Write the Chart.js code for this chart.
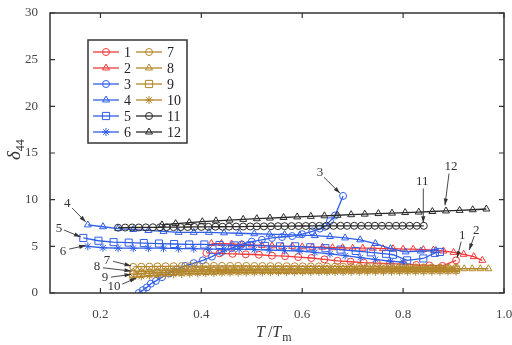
<!DOCTYPE html>
<html lang="en">
<head>
    <meta charset="UTF-8">
    <title>delta44 vs T/Tm</title>
    <script src="https://cdn.jsdelivr.net/npm/chart.js"></script>
    <style>
        body { margin: 0; padding: 0; background: #ffffff; }
        .wrap { width: 512px; height: 345px; position: relative; }
    </style>
</head>
<body>
    <div class="wrap"><canvas id="chart" width="512" height="345"></canvas></div>

    <script>
        // axis ticks
        const xTicks = [0.2, 0.4, 0.6, 0.8, 1.0];
        const yTicks = [0, 5, 10, 15, 20, 25, 30];
        const names = ["1", "2", "3", "4", "5", "6", "7", "8", "9", "10", "11", "12"];

        // red
        const t1 = [0.410, 0.436, 0.462, 0.488, 0.514, 0.540, 0.566, 0.592, 0.618, 0.644, 0.670, 0.696, 0.722, 0.748, 0.774, 0.800, 0.826, 0.852, 0.878, 0.905];
        const d1 = [4.30, 4.25, 4.20, 4.15, 4.10, 4.00, 3.95, 3.85, 3.75, 3.60, 3.45, 3.35, 3.25, 3.20, 3.15, 3.10, 3.00, 2.95, 2.90, 3.50];
        const t2 = [0.42, 0.44, 0.46, 0.48, 0.50, 0.52, 0.54, 0.56, 0.58, 0.60, 0.62, 0.64, 0.66, 0.68, 0.70, 0.72, 0.74, 0.76, 0.78, 0.80, 0.82, 0.84, 0.86, 0.88, 0.90, 0.92, 0.94, 0.957];
        const d2 = [5.30, 5.30, 5.25, 5.20, 5.15, 5.10, 5.05, 5.00, 5.00, 4.95, 4.90, 4.90, 4.85, 4.85, 4.80, 4.80, 4.80, 4.75, 4.75, 4.70, 4.70, 4.65, 4.60, 4.50, 4.35, 4.15, 3.90, 3.50];

        // blue
        const t3 = [0.276, 0.284, 0.292, 0.300, 0.310, 0.322, 0.336, 0.352, 0.368, 0.385, 0.403, 0.421, 0.440, 0.460, 0.480, 0.500, 0.520, 0.540, 0.560, 0.580, 0.600, 0.620, 0.635, 0.645, 0.655, 0.665, 0.681];
        const d3 = [0.0, 0.3, 0.6, 1.0, 1.3, 1.7, 2.1, 2.5, 2.9, 3.2, 3.5, 3.9, 4.4, 4.8, 5.2, 5.5, 5.7, 5.9, 6.0, 6.1, 6.3, 6.6, 6.9, 7.1, 7.7, 8.3, 10.4];
        const t4 = [0.175, 0.205, 0.235, 0.265, 0.295, 0.325, 0.355, 0.385, 0.415, 0.445, 0.475, 0.505, 0.535, 0.565, 0.595, 0.625, 0.655, 0.685, 0.715, 0.745, 0.775, 0.805, 0.835, 0.865];
        const d4 = [7.3, 7.1, 6.9, 6.8, 6.7, 6.6, 6.5, 6.5, 6.5, 6.45, 6.4, 6.35, 6.3, 6.25, 6.2, 6.15, 6.05, 5.9, 5.7, 5.3, 4.75, 4.4, 4.5, 4.55];
        const t5 = [0.166, 0.196, 0.226, 0.256, 0.286, 0.316, 0.346, 0.376, 0.406, 0.436, 0.466, 0.496, 0.526, 0.556, 0.586, 0.616, 0.646, 0.676, 0.706, 0.736, 0.766, 0.780, 0.808, 0.840, 0.863, 0.873];
        const d5 = [5.9, 5.6, 5.45, 5.4, 5.35, 5.3, 5.25, 5.2, 5.2, 5.15, 5.1, 5.1, 5.05, 5.0, 5.0, 4.9, 4.8, 4.65, 4.5, 4.35, 4.2, 4.1, 3.5, 3.7, 4.3, 4.4];
        const t6 = [0.175, 0.205, 0.235, 0.265, 0.295, 0.325, 0.355, 0.385, 0.415, 0.445, 0.475, 0.505, 0.535, 0.565, 0.595, 0.625, 0.655, 0.685, 0.715, 0.745, 0.775, 0.800];
        const d6 = [5.0, 4.85, 4.8, 4.8, 4.8, 4.8, 4.75, 4.75, 4.7, 4.7, 4.7, 4.65, 4.6, 4.55, 4.5, 4.35, 4.2, 4.0, 3.8, 3.6, 3.4, 3.3];

        // gold
        const tGold = [0.265, 0.281, 0.297, 0.313, 0.329, 0.345, 0.361, 0.377, 0.393, 0.409, 0.425, 0.441, 0.457, 0.473, 0.489, 0.505, 0.521, 0.537, 0.553, 0.569, 0.585, 0.601, 0.617, 0.633, 0.649, 0.665, 0.681, 0.697, 0.713, 0.729, 0.745, 0.761, 0.777, 0.793, 0.809, 0.825, 0.841, 0.857, 0.873, 0.889, 0.905];
        const t8 = [0.265, 0.281, 0.297, 0.313, 0.329, 0.345, 0.361, 0.377, 0.393, 0.409, 0.425, 0.441, 0.457, 0.473, 0.489, 0.505, 0.521, 0.537, 0.553, 0.569, 0.585, 0.601, 0.617, 0.633, 0.649, 0.665, 0.681, 0.697, 0.713, 0.729, 0.745, 0.761, 0.777, 0.793, 0.809, 0.825, 0.841, 0.857, 0.873, 0.889, 0.905, 0.921, 0.937, 0.953, 0.969];
        const d7 = [2.80, 2.82, 2.83, 2.85, 2.86, 2.87, 2.88, 2.88, 2.89, 2.89, 2.90, 2.90, 2.90, 2.90, 2.90, 2.89, 2.89, 2.88, 2.88, 2.87, 2.87, 2.86, 2.85, 2.85, 2.84, 2.83, 2.82, 2.81, 2.80, 2.80, 2.79, 2.78, 2.77, 2.76, 2.75, 2.74, 2.73, 2.72, 2.71, 2.70, 2.70];
        const d8 = [2.25, 2.29, 2.33, 2.36, 2.39, 2.42, 2.44, 2.46, 2.48, 2.50, 2.51, 2.52, 2.53, 2.54, 2.55, 2.55, 2.56, 2.56, 2.57, 2.57, 2.58, 2.58, 2.58, 2.59, 2.59, 2.59, 2.60, 2.60, 2.60, 2.60, 2.60, 2.60, 2.60, 2.60, 2.60, 2.60, 2.60, 2.60, 2.60, 2.60, 2.60, 2.60, 2.60, 2.60, 2.60];
        const d9 = [2.00, 2.06, 2.12, 2.17, 2.21, 2.25, 2.28, 2.31, 2.34, 2.36, 2.38, 2.40, 2.41, 2.42, 2.43, 2.44, 2.45, 2.45, 2.46, 2.46, 2.47, 2.47, 2.48, 2.48, 2.48, 2.49, 2.49, 2.49, 2.50, 2.50, 2.50, 2.50, 2.50, 2.50, 2.50, 2.50, 2.50, 2.50, 2.50, 2.50, 2.50];
        const d10 = [1.70, 1.78, 1.85, 1.91, 1.96, 2.00, 2.04, 2.07, 2.10, 2.12, 2.14, 2.16, 2.17, 2.18, 2.19, 2.20, 2.21, 2.22, 2.22, 2.23, 2.23, 2.24, 2.24, 2.25, 2.25, 2.25, 2.26, 2.26, 2.26, 2.27, 2.27, 2.27, 2.28, 2.28, 2.28, 2.28, 2.29, 2.29, 2.29, 2.30, 2.30];

        // black
        const t11 = [0.235, 0.249, 0.263, 0.276, 0.290, 0.304, 0.318, 0.331, 0.345, 0.359, 0.373, 0.386, 0.400, 0.414, 0.428, 0.442, 0.455, 0.469, 0.483, 0.497, 0.510, 0.524, 0.538, 0.552, 0.565, 0.579, 0.593, 0.607, 0.620, 0.634, 0.648, 0.662, 0.676, 0.689, 0.703, 0.717, 0.731, 0.744, 0.758, 0.772, 0.786, 0.799, 0.813, 0.827, 0.841];
        const d11 = [7.00, 7.01, 7.02, 7.02, 7.03, 7.04, 7.04, 7.05, 7.06, 7.06, 7.07, 7.08, 7.08, 7.09, 7.10, 7.10, 7.11, 7.12, 7.12, 7.13, 7.14, 7.14, 7.15, 7.16, 7.16, 7.17, 7.18, 7.18, 7.19, 7.19, 7.20, 7.20, 7.20, 7.20, 7.20, 7.20, 7.20, 7.20, 7.20, 7.20, 7.20, 7.20, 7.20, 7.20, 7.20];
        const t12 = [0.322, 0.349, 0.376, 0.402, 0.429, 0.456, 0.483, 0.510, 0.536, 0.563, 0.590, 0.617, 0.644, 0.670, 0.697, 0.724, 0.751, 0.778, 0.804, 0.831, 0.858, 0.885, 0.912, 0.938, 0.965];
        const d12 = [7.30, 7.44, 7.55, 7.64, 7.73, 7.81, 7.89, 7.96, 8.03, 8.09, 8.15, 8.21, 8.27, 8.33, 8.39, 8.45, 8.51, 8.56, 8.62, 8.67, 8.73, 8.79, 8.85, 8.92, 9.00];

        const RED = "#f03a3a", BLUE = "#2f5ee8", GOLD = "#b3862b", BLACK = "#2a2a2a";
        const SERIF = "'Liberation Serif', 'DejaVu Serif', serif";

        function pts(t, d) {
            return t.map((x, i) => ({ x: x, y: d[i] }));
        }

        function series(name, t, d, color, style, radius) {
            return {
                label: name,
                data: pts(t, d),
                showLine: true,
                borderColor: color,
                borderWidth: 1.3,
                pointStyle: style,
                pointRadius: radius,
                pointBorderColor: color,
                pointBackgroundColor: "rgba(255,255,255,0)",
                pointBorderWidth: 1,
                tension: 0
            };
        }

        // draw order: gold first, then black, blue, red
        const datasets = [
            series("7", tGold, d7, GOLD, "circle", 3.5),
            series("8", t8, d8, GOLD, "triangle", 4),
            series("9", tGold, d9, GOLD, "rect", 5),
            series("10", tGold, d10, GOLD, "star", 4),
            series("11", t11, d11, BLACK, "circle", 3.5),
            series("12", t12, d12, BLACK, "triangle", 4),
            series("3", t3, d3, BLUE, "circle", 3.5),
            series("4", t4, d4, BLUE, "triangle", 4),
            series("5", t5, d5, BLUE, "rect", 5),
            series("6", t6, d6, BLUE, "star", 4),
            series("1", t1, d1, RED, "circle", 3.5),
            series("2", t2, d2, RED, "triangle", 4)
        ];

        // label arrows, in data units: text pos, line start, arrow tip
        const notes = [
            { s: "4", tx: 0.134, ty: 9.6, fx: 0.144, fy: 9.1, ax: 0.171, ay: 7.6 },
            { s: "5", tx: 0.118, ty: 6.95, fx: 0.128, fy: 6.74, ax: 0.161, ay: 6.0 },
            { s: "6", tx: 0.126, ty: 4.4, fx: 0.138, fy: 4.7, ax: 0.171, ay: 5.1 },
            { s: "7", tx: 0.213, ty: 3.5, fx: 0.225, fy: 3.4, ax: 0.261, ay: 2.9 },
            { s: "8", tx: 0.193, ty: 2.8, fx: 0.205, fy: 2.7, ax: 0.261, ay: 2.35 },
            { s: "9", tx: 0.209, ty: 1.7, fx: 0.221, fy: 1.7, ax: 0.261, ay: 2.0 },
            { s: "10", tx: 0.227, ty: 0.65, fx: 0.243, fy: 0.95, ax: 0.271, ay: 1.6 },
            { s: "3", tx: 0.635, ty: 12.9, fx: 0.643, fy: 12.4, ax: 0.675, ay: 10.7 },
            { s: "11", tx: 0.838, ty: 11.9, fx: 0.840, fy: 11.2, ax: 0.840, ay: 7.5 },
            { s: "12", tx: 0.895, ty: 13.5, fx: 0.891, fy: 12.8, ax: 0.883, ay: 9.4 },
            { s: "1", tx: 0.917, ty: 6.1, fx: 0.915, fy: 5.5, ax: 0.907, ay: 3.75 },
            { s: "2", tx: 0.945, ty: 6.7, fx: 0.941, fy: 6.1, ax: 0.931, ay: 4.6 }
        ];

        function marker(ctx, style, x, y, r, color) {
            ctx.save();
            ctx.strokeStyle = color;
            ctx.lineWidth = 1;
            ctx.beginPath();
            if (style === "circle") {
                ctx.arc(x, y, r, 0, Math.PI * 2);
            } else if (style === "triangle") {
                ctx.moveTo(x, y - r);
                ctx.lineTo(x + r * 0.87, y + r * 0.5);
                ctx.lineTo(x - r * 0.87, y + r * 0.5);
                ctx.closePath();
            } else if (style === "rect") {
                const h = r * 0.72;
                ctx.rect(x - h, y - h, h * 2, h * 2);
            } else if (style === "star") {
                for (let k = 0; k < 4; k++) {
                    const a = k * Math.PI / 4;
                    ctx.moveTo(x - Math.cos(a) * r, y - Math.sin(a) * r);
                    ctx.lineTo(x + Math.cos(a) * r, y + Math.sin(a) * r);
                }
            }
            ctx.stroke();
            ctx.restore();
        }

        const decor = {
            id: "decor",
            afterDraw(chart) {
                const ctx = chart.ctx;
                const a = chart.chartArea;
                const xs = chart.scales.x, ys = chart.scales.y;

                // frame and inward ticks
                ctx.save();
                ctx.strokeStyle = "#333";
                ctx.lineWidth = 1.5;
                ctx.strokeRect(a.left, a.top, a.right - a.left, a.bottom - a.top);
                ctx.lineWidth = 1.2;
                ctx.beginPath();
                xTicks.forEach(v => {
                    const px = xs.getPixelForValue(v);
                    ctx.moveTo(px, a.bottom); ctx.lineTo(px, a.bottom - 5);
                    ctx.moveTo(px, a.top); ctx.lineTo(px, a.top + 5);
                });
                yTicks.forEach(v => {
                    const py = ys.getPixelForValue(v);
                    ctx.moveTo(a.left, py); ctx.lineTo(a.left + 5, py);
                    ctx.moveTo(a.right, py); ctx.lineTo(a.right - 5, py);
                });
                ctx.stroke();
                ctx.restore();

                // arrows and labels
                ctx.save();
                ctx.strokeStyle = "#333";
                ctx.fillStyle = "#333";
                ctx.lineWidth = 0.9;
                ctx.font = "13px " + SERIF;
                ctx.textAlign = "center";
                ctx.textBaseline = "middle";
                notes.forEach(n => {
                    const fx = xs.getPixelForValue(n.fx), fy = ys.getPixelForValue(n.fy);
                    const ax = xs.getPixelForValue(n.ax), ay = ys.getPixelForValue(n.ay);
                    ctx.beginPath();
                    ctx.moveTo(fx, fy);
                    ctx.lineTo(ax, ay);
                    ctx.stroke();
                    const ang = Math.atan2(ay - fy, ax - fx);
                    ctx.beginPath();
                    ctx.moveTo(ax, ay);
                    ctx.lineTo(ax - 7 * Math.cos(ang - 0.3), ay - 7 * Math.sin(ang - 0.3));
                    ctx.lineTo(ax - 7 * Math.cos(ang + 0.3), ay - 7 * Math.sin(ang + 0.3));
                    ctx.closePath();
                    ctx.fill();
                    ctx.fillText(n.s, xs.getPixelForValue(n.tx), ys.getPixelForValue(n.ty));
                });
                ctx.restore();

                // legend box
                ctx.save();
                ctx.fillStyle = "#fff";
                ctx.fillRect(88, 40, 99, 103);
                ctx.strokeStyle = "#333";
                ctx.lineWidth = 1.5;
                ctx.strokeRect(88, 40, 99, 103);
                ctx.font = "14px " + SERIF;
                ctx.textAlign = "left";
                ctx.textBaseline = "middle";
                ctx.fillStyle = "#222";
                names.forEach((nm, i) => {
                    const ds = chart.data.datasets.find(d => d.label === nm);
                    const col = i < 6 ? 0 : 1;
                    const row = i % 6;
                    const x0 = col === 0 ? 93 : 136;
                    const y0 = 52 + row * 16;
                    ctx.strokeStyle = ds.borderColor;
                    ctx.lineWidth = 1.3;
                    ctx.beginPath();
                    ctx.moveTo(x0, y0); ctx.lineTo(x0 + 26, y0);
                    ctx.stroke();
                    marker(ctx, ds.pointStyle, x0 + 13, y0, ds.pointRadius, ds.borderColor);
                    ctx.fillText(nm, x0 + 31, y0 + 1);
                });
                ctx.restore();

                // axis titles
                ctx.save();
                ctx.fillStyle = "#333";
                ctx.textBaseline = "alphabetic";
                ctx.textAlign = "left";
                let x = 256, y = 337;
                ctx.font = "italic 16px " + SERIF;
                ctx.fillText("T", x, y); x += ctx.measureText("T").width + 3;
                ctx.font = "16px " + SERIF;
                ctx.fillText("/", x, y); x += ctx.measureText("/").width;
                ctx.font = "italic 16px " + SERIF;
                ctx.fillText("T", x, y); x += ctx.measureText("T").width + 1;
                ctx.font = "12px " + SERIF;
                ctx.fillText("m", x, y + 4);

                ctx.translate(20, 160);
                ctx.rotate(-Math.PI / 2);
                ctx.font = "italic 19px " + SERIF;
                ctx.fillText("\u03b4", 0, 0);
                const w = ctx.measureText("\u03b4").width;
                ctx.font = "12px " + SERIF;
                ctx.fillText("44", w, 4);
                ctx.restore();
            }
        };

        new Chart(document.getElementById("chart"), {
            type: "scatter",
            data: { datasets: datasets },
            options: {
                responsive: false,
                animation: false,
                layout: { padding: { left: 0, right: 8, top: 13, bottom: 0 } },
                plugins: { legend: { display: false }, tooltip: { enabled: false } },
                scales: {
                    x: {
                        type: "linear",
                        min: 0.1,
                        max: 1.0,
                        afterBuildTicks: s => { s.ticks = xTicks.map(v => ({ value: v })); },
                        afterFit: s => { s.height = 52; s.paddingLeft = 0; s.paddingRight = 0; },
                        grid: { display: false },
                        border: { display: false },
                        ticks: {
                            autoSkip: false,
                            maxRotation: 0,
                            padding: 6,
                            color: "#444",
                            font: { family: SERIF, size: 13 },
                            callback: v => Number(v).toFixed(1)
                        }
                    },
                    y: {
                        min: 0,
                        max: 30,
                        afterBuildTicks: s => { s.ticks = yTicks.map(v => ({ value: v })); },
                        afterFit: s => { s.width = 50; s.paddingTop = 0; s.paddingBottom = 0; },
                        grid: { display: false },
                        border: { display: false },
                        ticks: {
                            padding: 4,
                            color: "#444",
                            font: { family: SERIF, size: 13 },
                            callback: v => String(v)
                        }
                    }
                }
            },
            plugins: [decor]
        });
    </script>
</body>
</html>
